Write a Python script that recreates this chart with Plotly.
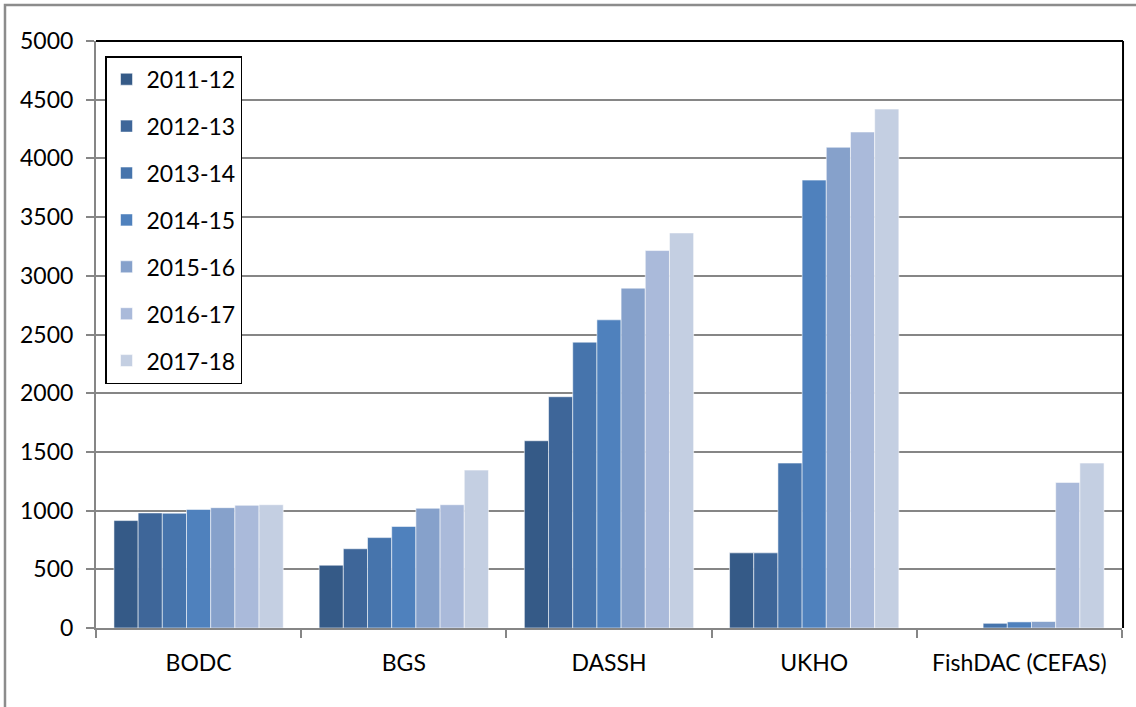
import plotly.graph_objects as go

# Data holders (categories) and yearly counts
centres = ["BODC", "BGS", "DASSH", "UKHO", "FishDAC (CEFAS)"]
years = ["2011-12", "2012-13", "2013-14", "2014-15", "2015-16", "2016-17", "2017-18"]

v_2011_12 = [915, 535, 1595, 640, 0]
v_2012_13 = [980, 675, 1970, 640, 0]
v_2013_14 = [978, 770, 2435, 1405, 40]
v_2014_15 = [1010, 865, 2625, 3815, 52]
v_2015_16 = [1025, 1020, 2895, 4095, 55]
v_2016_17 = [1045, 1050, 3215, 4225, 1240]
v_2017_18 = [1050, 1345, 3365, 4420, 1405]

series = [v_2011_12, v_2012_13, v_2013_14, v_2014_15, v_2015_16, v_2016_17, v_2017_18]
colours = ["#355A87", "#3E6699", "#4674AC", "#4F81BD", "#86A1CB", "#AABADA", "#C4CFE2"]

FONT = "Lato"
FSIZE = 23

fig = go.Figure()
for name, vals, col in zip(years, series, colours):
    fig.add_trace(go.Bar(
        x=centres, y=vals, name=name, legendgroup=name,
        marker=dict(color=col, line=dict(color="rgba(255,255,255,0.55)", width=1)),
    ))

fig.update_layout(
    width=1136, height=707,
    margin=dict(l=96, r=14, t=41, b=79),
    paper_bgcolor="white", plot_bgcolor="white",
    barmode="group", bargap=0.175, bargroupgap=0,
    font=dict(family=FONT, size=FSIZE, color="black"),
    showlegend=True,
    legend=dict(
        x=0.0088, y=0.974, xanchor="left", yanchor="top",
        bordercolor="black", borderwidth=1.5, bgcolor="white",
        traceorder="grouped", tracegroupgap=14,
        font=dict(family=FONT, size=FSIZE, color="black"),
        itemwidth=30,
    ),
    xaxis=dict(
        showline=True, linecolor="#868686", linewidth=2,
        ticks="outside", tickson="boundaries", ticklen=8, tickcolor="#868686", tickwidth=1.5,
        tickfont=dict(family=FONT, size=FSIZE, color="black"),
        ticklabelstandoff=13,
        showgrid=False,
    ),
    yaxis=dict(
        range=[0, 5000], dtick=500, tick0=0,
        showline=True, linecolor="#868686", linewidth=2,
        ticks="outside", ticklen=8, tickcolor="#868686", tickwidth=1.5,
        showgrid=True, gridcolor="#868686", gridwidth=1.5,
        zeroline=False,
        tickfont=dict(family=FONT, size=FSIZE, color="black"),
        ticklabelstandoff=8,
    ),
    shapes=[
        # outer chart frame
        dict(type="rect", xref="paper", yref="paper",
             x0=-0.0887, x1=1.2, y0=-0.3, y1=1.0613,
             line=dict(color="#8C8C8C", width=2.5), layer="below"),
        # plot-area frame: top and right edges
        dict(type="line", xref="paper", yref="paper", x0=0, x1=1.001, y0=1, y1=1,
             line=dict(color="black", width=2)),
        dict(type="line", xref="paper", yref="paper", x0=1.001, x1=1.001, y0=0, y1=1,
             line=dict(color="black", width=2)),
    ],
)

fig.write_html("out.html")
